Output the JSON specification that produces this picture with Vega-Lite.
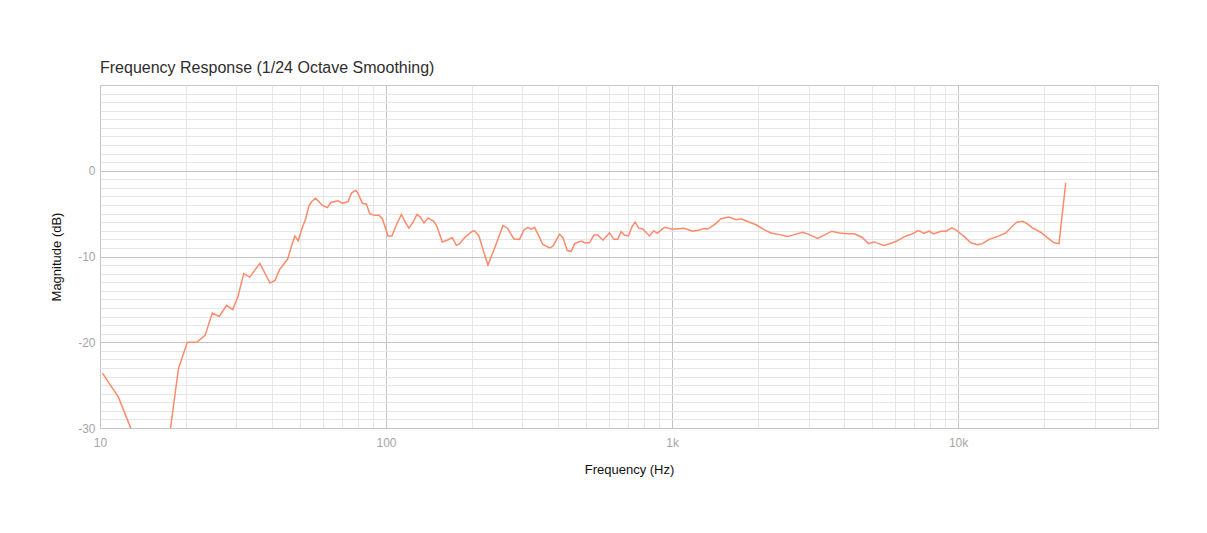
{
  "$schema": "https://vega.github.io/schema/vega-lite/v6.json",
  "autosize": "none",
  "padding": {"left": 100, "top": 85, "right": 49, "bottom": 105},
  "width": 1058,
  "height": 343,
  "background": "white",
  "title": {
    "text": "Frequency Response (1/24 Octave Smoothing)",
    "anchor": "start",
    "frame": "group",
    "font": "Liberation Sans",
    "fontSize": 16,
    "fontWeight": "normal",
    "color": "#2e2e2e",
    "offset": 9
  },
  "config": {
    "view": {"stroke": "#c8c8c8", "strokeWidth": 1},
    "axis": {"labelFont": "Liberation Sans", "titleFont": "Liberation Sans"}
  },
  "data": {
    "values": [
      {"f": 10.2, "db": -23.6}, {"f": 11.6, "db": -26.4}, {"f": 13.6, "db": -32.2}, {"f": 16.7, "db": -36.0},
      {"f": 18.8, "db": -23.1}, {"f": 20.2, "db": -20.0}, {"f": 21.8, "db": -20.0}, {"f": 23.3, "db": -19.2},
      {"f": 24.7, "db": -16.6}, {"f": 26.1, "db": -17.0}, {"f": 27.7, "db": -15.7}, {"f": 29.1, "db": -16.2},
      {"f": 30.4, "db": -14.6}, {"f": 31.8, "db": -12.0}, {"f": 33.4, "db": -12.4}, {"f": 36.2, "db": -10.8},
      {"f": 39.3, "db": -13.1}, {"f": 40.9, "db": -12.8}, {"f": 42.5, "db": -11.5}, {"f": 45.3, "db": -10.3},
      {"f": 46.7, "db": -8.8}, {"f": 48.0, "db": -7.6}, {"f": 49.3, "db": -8.2}, {"f": 51.1, "db": -6.5},
      {"f": 52.4, "db": -5.6}, {"f": 53.7, "db": -4.15}, {"f": 54.9, "db": -3.6}, {"f": 56.7, "db": -3.2},
      {"f": 59.8, "db": -4.0}, {"f": 62.4, "db": -4.3}, {"f": 64.1, "db": -3.7}, {"f": 68.0, "db": -3.5},
      {"f": 70.4, "db": -3.8}, {"f": 73.7, "db": -3.6}, {"f": 75.7, "db": -2.6}, {"f": 78.3, "db": -2.3},
      {"f": 79.4, "db": -2.5}, {"f": 82.7, "db": -3.8}, {"f": 85.4, "db": -3.9}, {"f": 87.7, "db": -5.0},
      {"f": 91.3, "db": -5.2}, {"f": 94.5, "db": -5.2}, {"f": 97.1, "db": -5.6}, {"f": 101.6, "db": -7.6},
      {"f": 104.9, "db": -7.6}, {"f": 108.7, "db": -6.3}, {"f": 113.2, "db": -5.1}, {"f": 117.2, "db": -6.1},
      {"f": 120.3, "db": -6.7}, {"f": 124.3, "db": -6.0}, {"f": 128.4, "db": -5.1}, {"f": 131.8, "db": -5.4},
      {"f": 135.8, "db": -6.1}, {"f": 140.2, "db": -5.5}, {"f": 146.8, "db": -5.9}, {"f": 150.7, "db": -6.5},
      {"f": 157.3, "db": -8.3}, {"f": 163.3, "db": -8.1}, {"f": 170.5, "db": -7.8}, {"f": 176.1, "db": -8.7},
      {"f": 180.9, "db": -8.5}, {"f": 188.3, "db": -7.8}, {"f": 200.3, "db": -7.05}, {"f": 204, "db": -7.0},
      {"f": 211.3, "db": -7.6}, {"f": 218.3, "db": -9.2}, {"f": 227.2, "db": -11.0}, {"f": 239.8, "db": -9.0},
      {"f": 256.3, "db": -6.4}, {"f": 265.5, "db": -6.7}, {"f": 280, "db": -7.95}, {"f": 293, "db": -8.0},
      {"f": 303.4, "db": -6.9}, {"f": 313.3, "db": -6.6}, {"f": 321.9, "db": -6.8}, {"f": 330.7, "db": -6.6},
      {"f": 344.3, "db": -7.8}, {"f": 353.4, "db": -8.6}, {"f": 373.2, "db": -9.0}, {"f": 383.2, "db": -8.8},
      {"f": 404.4, "db": -7.4}, {"f": 415.4, "db": -7.8}, {"f": 430.2, "db": -9.3}, {"f": 444.4, "db": -9.4},
      {"f": 456.3, "db": -8.5}, {"f": 481.4, "db": -8.2}, {"f": 494.3, "db": -8.4}, {"f": 514.5, "db": -8.4},
      {"f": 533, "db": -7.5}, {"f": 550.4, "db": -7.5}, {"f": 572.9, "db": -8.1}, {"f": 604.4, "db": -7.25},
      {"f": 625.8, "db": -8.0}, {"f": 646.3, "db": -8.0}, {"f": 663.7, "db": -7.1}, {"f": 682, "db": -7.5},
      {"f": 704, "db": -7.6}, {"f": 725, "db": -6.5}, {"f": 743, "db": -6.0}, {"f": 764.7, "db": -6.7},
      {"f": 790, "db": -6.8}, {"f": 833.7, "db": -7.6}, {"f": 863, "db": -7.0}, {"f": 887, "db": -7.3},
      {"f": 940.6, "db": -6.6}, {"f": 992.7, "db": -6.8}, {"f": 1033, "db": -6.8}, {"f": 1099, "db": -6.7},
      {"f": 1120, "db": -6.8}, {"f": 1181, "db": -7.05}, {"f": 1246, "db": -6.9}, {"f": 1297, "db": -6.75},
      {"f": 1333, "db": -6.8}, {"f": 1418, "db": -6.2}, {"f": 1484, "db": -5.6}, {"f": 1578, "db": -5.4},
      {"f": 1674, "db": -5.7}, {"f": 1743, "db": -5.6}, {"f": 1864, "db": -6.0}, {"f": 1967, "db": -6.3},
      {"f": 2102, "db": -6.9}, {"f": 2218, "db": -7.25}, {"f": 2371, "db": -7.45}, {"f": 2535, "db": -7.67},
      {"f": 2676, "db": -7.45}, {"f": 2861, "db": -7.17}, {"f": 2979, "db": -7.36}, {"f": 3228, "db": -7.9},
      {"f": 3361, "db": -7.6}, {"f": 3623, "db": -7.05}, {"f": 3843, "db": -7.25}, {"f": 4110, "db": -7.36},
      {"f": 4335, "db": -7.36}, {"f": 4611, "db": -7.75}, {"f": 4865, "db": -8.5}, {"f": 5092, "db": -8.3},
      {"f": 5272, "db": -8.5}, {"f": 5519, "db": -8.7}, {"f": 5901, "db": -8.4}, {"f": 6143, "db": -8.15},
      {"f": 6573, "db": -7.6}, {"f": 6930, "db": -7.36}, {"f": 7215, "db": -7.0}, {"f": 7373, "db": -7.05},
      {"f": 7570, "db": -7.3}, {"f": 7925, "db": -7.05}, {"f": 8204, "db": -7.36}, {"f": 8707, "db": -7.05},
      {"f": 9064, "db": -7.05}, {"f": 9510, "db": -6.67}, {"f": 9824, "db": -6.9}, {"f": 10437, "db": -7.6},
      {"f": 11083, "db": -8.4}, {"f": 11690, "db": -8.64}, {"f": 12173, "db": -8.5}, {"f": 12844, "db": -8.0},
      {"f": 13920, "db": -7.6}, {"f": 14690, "db": -7.25}, {"f": 15369, "db": -6.55}, {"f": 16047, "db": -6.0},
      {"f": 16790, "db": -5.9}, {"f": 17475, "db": -6.2}, {"f": 18190, "db": -6.67}, {"f": 19450, "db": -7.17},
      {"f": 20520, "db": -7.8}, {"f": 21650, "db": -8.4}, {"f": 22540, "db": -8.5}, {"f": 23790, "db": -1.4}
    ]
  },
  "layer": [
    {
      "mark": {"type": "line", "opacity": 0},
      "encoding": {
        "x": {
          "field": "f", "type": "quantitative",
          "scale": {"type": "log", "domain": [10, 50000], "nice": false},
          "axis": {
            "orient": "top", "values": [20,30,40,50,60,70,80,90,200,300,400,500,600,700,800,900,2000,3000,4000,5000,6000,7000,8000,9000,20000,30000,40000],
            "labels": false, "ticks": false, "domain": false, "title": null,
            "grid": true, "gridColor": "#e6e6e6", "gridWidth": 1
          }
        },
        "y": {
          "field": "db", "type": "quantitative",
          "scale": {"domain": [-30, 10], "nice": false, "zero": false},
          "axis": {
            "orient": "right", "values": [-29,-28,-27,-26,-25,-24,-23,-22,-21,-19,-18,-17,-16,-15,-14,-13,-12,-11,-9,-8,-7,-6,-5,-4,-3,-2,-1,1,2,3,4,5,6,7,8,9],
            "labels": false, "ticks": false, "domain": false, "title": null,
            "grid": true, "gridColor": "#e6e6e6", "gridWidth": 1
          }
        }
      }
    },
    {
      "mark": {"type": "line", "color": "#ff8a6b", "strokeWidth": 1.5, "clip": true},
      "encoding": {
        "x": {
          "field": "f", "type": "quantitative",
          "scale": {"type": "log", "domain": [10, 50000], "nice": false},
          "axis": {
            "orient": "bottom", "values": [10, 100, 1000, 10000],
            "labelExpr": "datum.value >= 1000 ? (datum.value / 1000) + 'k' : '' + datum.value",
            "labelFontSize": 12, "labelColor": "#a6a6a6", "labelPadding": 9, "labelFlush": false,
            "ticks": false, "domain": false,
            "grid": true, "gridColor": "#c4c4c4", "gridWidth": 1,
            "title": "Frequency (Hz)", "titleFontSize": 13, "titleFontWeight": "normal", "titleColor": "#111111", "titlePadding": 15
          }
        },
        "y": {
          "field": "db", "type": "quantitative",
          "scale": {"domain": [-30, 10], "nice": false, "zero": false},
          "axis": {
            "orient": "left", "values": [-30, -20, -10, 0],
            "labelExpr": "'' + datum.value",
            "labelFontSize": 12, "labelColor": "#a6a6a6", "labelPadding": 5, "labelFlush": false,
            "ticks": false, "domain": false,
            "grid": true, "gridColor": "#c4c4c4", "gridWidth": 1,
            "title": "Magnitude (dB)", "titleFontSize": 13, "titleFontWeight": "normal", "titleColor": "#111111", "titlePadding": 14
          }
        }
      }
    }
  ],
  "resolve": {"axis": {"x": "independent", "y": "independent"}}
}
